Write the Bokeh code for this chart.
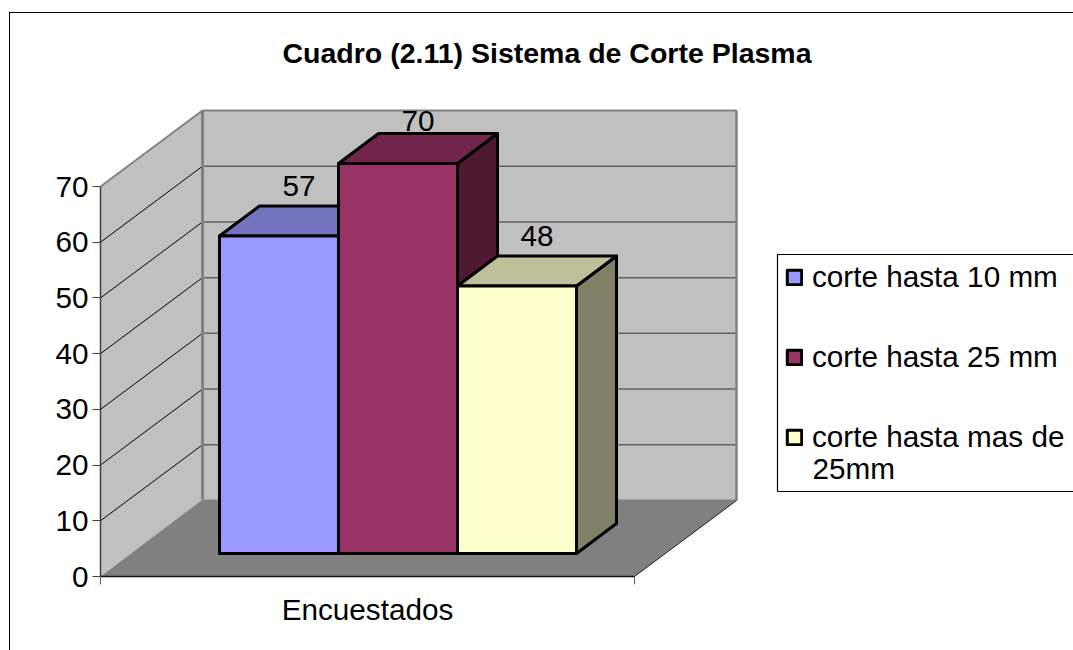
from bokeh.plotting import figure
from bokeh.models import (Range1d, FixedTicker, LinearAxis, Legend, LegendItem, Title,
                          BoxAnnotation, ColumnDataSource)
from bokeh.core.properties import value
from bokeh.embed import file_html
from bokeh.resources import INLINE

TITLE = "Cuadro (2.11) Sistema de Corte Plasma"
CATEGORY = "Encuestados"
SERIES = ["corte hasta 10 mm", "corte hasta 25 mm", "corte hasta mas de"]
SERIES_WRAP = "25mm"
VALUES = [57, 70, 48]
TICKS = [0, 10, 20, 30, 40, 50, 60, 70]

FRONT = ["#9999FF", "#993366", "#FFFFCC"]
TOP = ["#7373BF", "#73264D", "#BFBF99"]
SIDE = ["#4D4D80", "#4D1933", "#808066"]

FONT = "Liberation Sans"
FS = "29.7px"

# layout in screen pixels
PX = 390 / 70          # pixels per value unit
FRAME_W, FRAME_H = 973, 492
BELOW_ZERO = 2         # pixels of frame kept under the zero line
FLOOR_W = 534
WALL_DX, WALL_DY = 102, 76 / PX
FLOOR_DY = 77 / PX
BAR_X0, BAR_W = 119, 119
BAR_BASE = 23 / PX
BAR_DX, BAR_DY = 40, 30 / PX
LABEL_LIFT = [10, 3, 10]

p = figure(frame_width=FRAME_W, frame_height=FRAME_H,
           min_border_left=100, min_border_right=0, min_border_top=86, min_border_bottom=72,
           x_range=Range1d(0, FRAME_W),
           y_range=Range1d(-BELOW_ZERO / PX, (FRAME_H - BELOW_ZERO) / PX),
           output_backend="svg", toolbar_location=None, tools="",
           x_axis_type=None, y_axis_type=None,
           background_fill_color="white", border_fill_color=None, outline_line_color=None)
p.grid.visible = False
# chart-area border, behind the transparent canvas margins
p.styles = {"background":
            "linear-gradient(black,black) 9px 12px / 1.3px 100% no-repeat,"
            "linear-gradient(black,black) 9px 12px / 100% 1.3px no-repeat,"
            "white"}

t = Title(text=TITLE, align="left", offset=182, text_font=FONT, text_font_size="28.5px",
          text_font_style="bold", text_color="black", standoff=36)
p.add_layout(t, "above")

top = TICKS[-1]
# walls and floor
p.patch([0, WALL_DX, WALL_DX, 0], [0, FLOOR_DY, top + WALL_DY, top],
        fill_color="#C0C0C0", line_color=None)
p.quad(left=WALL_DX, right=WALL_DX + FLOOR_W, bottom=WALL_DY, top=top + WALL_DY,
       fill_color="#C0C0C0", line_color=None)
p.patch([0, WALL_DX, WALL_DX + FLOOR_W, WALL_DX + FLOOR_W, FLOOR_W],
        [0, FLOOR_DY, FLOOR_DY, WALL_DY, 0],
        fill_color="#808080", line_color=None)
# gridlines
for v in TICKS[1:-1]:
    p.line([0, WALL_DX], [v, v + WALL_DY], line_color="black", line_width=1)
    p.line([WALL_DX, WALL_DX + FLOOR_W], [v + WALL_DY, v + WALL_DY], line_color="#606060", line_width=1.5)
# wall edges
p.line([0, WALL_DX], [top, top + WALL_DY], line_color="#808080", line_width=2)
p.line([WALL_DX, WALL_DX + FLOOR_W], [top + WALL_DY, top + WALL_DY], line_color="#808080", line_width=2)
p.line([WALL_DX, WALL_DX], [FLOOR_DY, top + WALL_DY], line_color="#808080", line_width=3)
p.line([WALL_DX + FLOOR_W, WALL_DX + FLOOR_W], [WALL_DY, top + WALL_DY], line_color="#808080", line_width=2.5)
# floor edges
p.line([FLOOR_W, WALL_DX + FLOOR_W], [0, WALL_DY], line_color="#202020", line_width=1)
p.line([0, FLOOR_W], [0, 0], line_color="#101010", line_width=1.5)

# bars
fronts = []
for i, v in enumerate(VALUES):
    x0, x1 = BAR_X0 + i * BAR_W, BAR_X0 + (i + 1) * BAR_W
    y0, y1 = BAR_BASE, BAR_BASE + v
    p.patch([x1, x1 + BAR_DX, x1 + BAR_DX, x1], [y0, y0 + BAR_DY, y1 + BAR_DY, y1],
            fill_color=SIDE[i], line_color="black", line_width=3, line_join="round")
    p.patch([x0, x0 + BAR_DX, x1 + BAR_DX, x1], [y1, y1 + BAR_DY, y1 + BAR_DY, y1],
            fill_color=TOP[i], line_color="black", line_width=3, line_join="round")
    r = p.quad(left=x0, right=x1, bottom=y0, top=y1, fill_color=FRONT[i],
               line_color="black", line_width=3, line_join="round")
    fronts.append(r)

# data labels
src = ColumnDataSource(dict(
    x=[BAR_X0 + (i + 0.5) * BAR_W + BAR_DX / 2 for i in range(len(VALUES))],
    y=[BAR_BASE + v + BAR_DY + LABEL_LIFT[i] / PX for i, v in enumerate(VALUES)],
    t=[str(v) for v in VALUES]))
p.text("x", "y", text="t", source=src, text_font=value(FONT), text_font_size=FS,
       text_align="center", text_baseline="bottom", text_color="black")

# axes
ya = LinearAxis(ticker=FixedTicker(ticks=TICKS), bounds=(0, top),
                axis_line_color="#404040", axis_line_width=1.5,
                major_tick_out=8, major_tick_in=0, major_tick_line_color="#404040", major_tick_line_width=1,
                minor_tick_line_color=None, major_label_standoff=4,
                major_label_text_font=FONT, major_label_text_font_size=FS, major_label_text_color="black")
p.add_layout(ya, "left")
xa = LinearAxis(ticker=FixedTicker(ticks=[FLOOR_W / 2], minor_ticks=[0, FLOOR_W]), bounds=(0, FLOOR_W),
                major_label_overrides={FLOOR_W / 2: CATEGORY},
                axis_line_color=None, major_tick_line_color=None, major_tick_out=0, major_tick_in=0,
                minor_tick_out=6, minor_tick_in=2, minor_tick_line_color="#606060", minor_tick_line_width=1,
                major_label_standoff=8,
                major_label_text_font=FONT, major_label_text_font_size=FS, major_label_text_color="black")
p.add_layout(xa, "below")

# legend frame and legend
p.add_layout(BoxAnnotation(left=677, right=FRAME_W + 20, top=(576 - 254) / PX, bottom=(576 - 491) / PX,
                           fill_color="white", fill_alpha=1, line_color="black", line_alpha=1, line_width=1.2))
legend = Legend(items=[LegendItem(label=value(s), renderers=[r]) for s, r in zip(SERIES, fronts)],
                location=(685, 124), orientation="vertical",
                border_line_color=None, background_fill_alpha=0, padding=8, margin=0, spacing=46,
                glyph_width=18, glyph_height=18, label_standoff=9, label_width=250,
                label_text_font=FONT, label_text_font_size=FS, label_text_color="black")
p.add_layout(legend, "center")
p.text([712], [(576 - 468) / PX], text=[SERIES_WRAP], text_font=value(FONT), text_font_size=FS,
       text_align="left", text_baseline="middle", text_color="black", level="overlay")

open("out.html", "w").write(file_html(p, INLINE))
